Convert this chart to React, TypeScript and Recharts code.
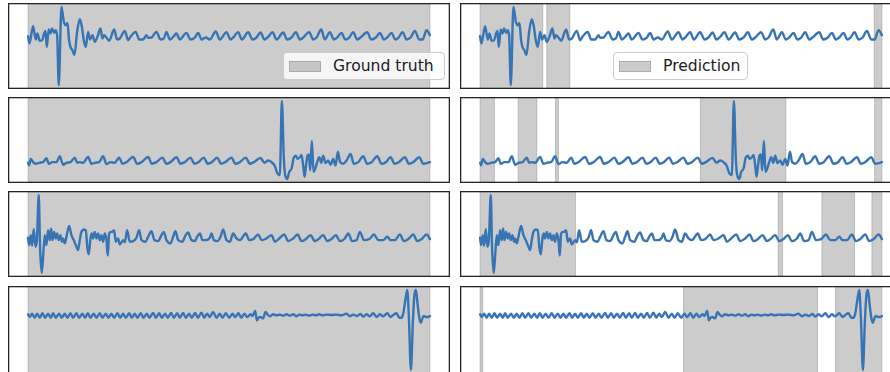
import React from "react";
import { LineChart, Line, XAxis, YAxis, ReferenceArea } from "recharts";

// Signals: [sample index, amplitude]
const signal1: [number, number][] = [
  [0,2],[4,-20],[15,32],[23,-8],[28,10],[35,-12],[42,-10],[48,10],[52,18],[56,-30],[62,22],[67,10],[72,25],[78,12],[83,20],[87,5],[92,-145],[100,90],[108,42],[113,35],[118,42],[123,-10],[127,-30],[133,-40],[139,-55],[147,15],[155,53],[161,32],[167,-10],[173,-30],[180,15],[186,-8],[193,5],[200,-15],[208,0],[217,25],[223,-5],[228,5],[235,-2],[243,-12],[258,22],[267,-8],[275,-5],[290,18],[300,-10],[307,0],[323,15],[333,-8],[345,-8],[355,5],[360,-3],[370,-2],[385,15],[397,-8],[407,-5],[415,15],[425,-8],[435,0],[445,10],[455,-8],[475,12],[487,-8],[500,-2],[510,12],[520,-8],[533,-2],[545,-8],[563,16],[575,-8],[595,14],[607,-8],[615,-2],[630,14],[641,-8],[660,14],[673,-8],[685,-2],[697,13],[709,-8],[720,0],[733,14],[745,-8],[765,13],[777,-8],[790,-2],[803,14],[815,-8],[825,-2],[843,14],[855,-8],[865,-2],[879,22],[890,-8],[905,14],[917,-8],[927,-2],[940,12],[951,-8],[963,-2],[975,14],[987,-8],[997,-2],[1017,14],[1029,-8],[1043,-2],[1055,12],[1067,-8],[1077,-2],[1090,12],[1101,-8],[1111,-2],[1123,14],[1135,-8],[1147,-2],[1160,18],[1173,-8],[1183,-8],[1195,20],[1205,5],
];

const signal2: [number, number][] = [
  [0,0],[3,-8],[8,12],[15,2],[23,-3],[33,0],[45,2],[55,14],[62,-3],[73,2],[85,2],[95,20],[105,-6],[115,0],[127,2],[140,16],[147,0],[155,2],[165,0],[180,18],[190,-3],[200,0],[213,2],[225,20],[235,-4],[247,2],[260,0],[273,16],[283,-3],[295,2],[315,18],[327,-3],[340,2],[360,18],[371,-3],[385,2],[403,16],[415,-3],[427,2],[445,17],[457,-3],[470,2],[487,16],[499,-3],[511,2],[527,16],[539,-3],[551,2],[567,16],[579,-3],[591,2],[610,16],[622,-3],[635,2],[653,16],[665,-3],[677,2],[697,15],[709,0],[720,7],[730,2],[740,-10],[748,-33],[755,-38],[761,190],[767,12],[771,-38],[777,-50],[783,-28],[790,-18],[797,17],[803,22],[808,12],[815,17],[820,24],[825,-8],[829,-43],[833,-13],[838,22],[842,26],[846,-23],[851,67],[856,-28],[861,-18],[867,2],[873,17],[879,0],[885,22],[892,-1],[900,7],[907,-6],[915,12],[922,-8],[929,34],[936,2],[945,-3],[955,7],[967,27],[977,-3],[990,2],[1005,20],[1017,-3],[1030,2],[1047,20],[1060,-3],[1073,2],[1087,17],[1099,-3],[1112,2],[1130,17],[1142,-3],[1155,2],[1173,17],[1185,-3],[1205,2],
];

const signal3: [number, number][] = [
  [0,2],[3,-20],[8,10],[12,-22],[17,28],[22,-25],[26,-10],[32,132],[36,-30],[41,-105],[46,-40],[50,10],[55,-20],[60,25],[65,-5],[69,30],[73,-5],[78,20],[83,0],[87,15],[92,-5],[97,10],[102,-10],[105,0],[110,-15],[115,5],[123,38],[130,10],[137,-5],[143,-20],[150,-35],[155,-5],[160,20],[167,27],[173,25],[178,-30],[182,-48],[187,0],[191,15],[195,0],[200,20],[205,0],[210,15],[215,-5],[220,10],[225,-10],[230,15],[235,-5],[239,-52],[243,15],[248,20],[253,20],[258,25],[263,-10],[270,0],[275,-18],[285,-5],[290,-12],[297,25],[305,-10],[315,-8],[325,2],[333,25],[340,-5],[352,-10],[360,5],[370,22],[379,-5],[390,-8],[400,10],[407,20],[415,-5],[427,-15],[435,5],[442,22],[450,-5],[463,-10],[470,5],[480,18],[490,-5],[500,-8],[507,5],[515,15],[523,-5],[535,-5],[545,2],[550,15],[557,-5],[568,-8],[577,5],[585,27],[595,-5],[605,-10],[615,15],[625,0],[635,-5],[653,15],[663,-5],[675,-2],[690,12],[700,-5],[715,0],[730,10],[740,-10],[753,0],[768,12],[780,-8],[795,0],[808,12],[820,-8],[833,-2],[847,10],[860,-8],[873,0],[885,10],[897,-8],[910,-2],[923,10],[935,-8],[950,0],[960,15],[972,-8],[985,-5],[995,20],[1007,-5],[1023,-2],[1037,12],[1050,-5],[1065,-5],[1077,5],[1087,-5],[1100,-5],[1115,12],[1127,-8],[1140,-2],[1155,12],[1167,-8],[1180,-2],[1195,12],[1205,-2],
];

const signal4: [number, number][] = [
  [0,3],[5,-5],[12,5],[20,-7],[27,5],[35,-7],[43,6],[51,-7],[60,5],[68,-7],[75,6],[83,-7],[93,5],[101,-7],[110,5],[118,-7],[127,6],[135,-7],[145,6],[153,-7],[163,5],[171,-7],[179,6],[187,-7],[197,5],[205,-7],[215,6],[223,-7],[233,5],[241,-7],[250,5],[258,-7],[268,6],[276,-7],[285,5],[293,-7],[303,6],[311,-7],[320,5],[328,-7],[338,6],[346,-7],[356,5],[364,-7],[375,7],[383,-7],[393,6],[401,-7],[411,5],[419,-7],[429,7],[437,-7],[447,6],[455,-7],[465,7],[473,-7],[483,5],[491,-7],[501,7],[509,-7],[520,8],[528,-7],[537,5],[545,-5],[555,10],[565,-7],[575,5],[583,-7],[593,6],[603,-7],[613,5],[621,-5],[631,6],[639,-7],[649,5],[657,-5],[667,3],[673,-2],[681,13],[686,-15],[691,-7],[697,-5],[705,-9],[712,10],[718,3],[725,-3],[735,3],[745,0],[755,2],[765,-1],[775,3],[785,-1],[795,3],[805,-3],[813,2],[823,0],[833,2],[843,-1],[853,2],[863,0],[873,3],[883,0],[895,2],[910,1],[925,2],[940,0],[955,5],[965,-3],[975,2],[987,-2],[997,4],[1005,-4],[1015,3],[1025,-3],[1035,6],[1045,-5],[1055,3],[1065,-3],[1077,6],[1087,-5],[1095,1],[1105,6],[1113,-7],[1120,-7],[1125,5],[1131,43],[1137,75],[1142,-7],[1148,-162],[1154,-17],[1159,63],[1163,75],[1168,33],[1174,-12],[1178,-22],[1183,-7],[1187,-2],[1193,-5],[1199,-5],[1205,-2],
];

// Shaded intervals (sample index ranges)
const truth1: [number, number][] = [[0, 1205]];
const truth2: [number, number][] = [[0, 1205]];
const truth3: [number, number][] = [[0, 1205]];
const truth4: [number, number][] = [[0, 1205]];
const pred1: [number, number][] = [[0, 188], [200, 269], [1182, 1205]];
const pred2: [number, number][] = [[0, 43], [114, 170], [226, 235], [661, 917], [1183, 1205]];
const pred3: [number, number][] = [[0, 286], [894, 907], [1025, 1123], [1175, 1205]];
const pred4: [number, number][] = [[0, 8], [610, 1012], [1066, 1205]];

const legendLabels = ["Ground truth", "Prediction"];

const LINE_COLOR = "#3774b3";
const PW = 442;
const FONT = "'DejaVu Sans', sans-serif";

function padDomain(vals: number[]): [number, number] {
  const lo = Math.min(...vals);
  const hi = Math.max(...vals);
  const p = (hi - lo) * 0.05;
  return [lo - p, hi + p];
}

function Panel({ left, top, height, signal, spans }: { left: number; top: number; height: number; signal: [number, number][]; spans: [number, number][] }) {
  const data = signal.map(([t, v]) => ({ t, v }));
  const xd = padDomain(signal.map((d) => d[0]));
  const yd = padDomain(signal.map((d) => d[1]));
  return (
    <div style={{ position: "absolute", left, top, width: PW, height }}>
      <LineChart width={PW} height={height} data={data} margin={{ top: 0, right: 0, bottom: 0, left: 0 }}>
        <XAxis type="number" dataKey="t" domain={xd} hide allowDataOverflow />
        <YAxis type="number" domain={yd} hide allowDataOverflow />
        {spans.map(([a, b], i) => (
          <ReferenceArea
            key={i}
            x1={a}
            x2={b}
            fill="#808080"
            fillOpacity={0.4}
            stroke="#808080"
            strokeOpacity={0.4}
            strokeWidth={1}
            ifOverflow="visible"
          />
        ))}
        <Line
          type="monotone"
          dataKey="v"
          stroke={LINE_COLOR}
          strokeWidth={2.4}
          strokeLinejoin="round"
          strokeLinecap="round"
          dot={false}
          isAnimationActive={false}
        />
      </LineChart>
      <svg width={PW} height={height} style={{ position: "absolute", left: 0, top: 0, pointerEvents: "none" }}>
        <rect x={0.65} y={0.65} width={PW - 1.3} height={height - 1.3} fill="none" stroke="#262626" strokeWidth={1.3} />
      </svg>
    </div>
  );
}

function LegendBox({ left, top, width, label }: { left: number; top: number; width: number; label: string }) {
  return (
    <div
      style={{
        position: "absolute",
        left,
        top,
        width,
        height: 28,
        boxSizing: "border-box",
        background: "rgba(255,255,255,0.8)",
        border: "1px solid #cccccc",
        borderRadius: 4,
        display: "flex",
        alignItems: "center",
        fontFamily: FONT,
        fontSize: 15.6,
        color: "#1a1a1a",
        whiteSpace: "nowrap",
      }}
    >
      <div
        style={{
          marginLeft: 5,
          width: 32,
          height: 11,
          boxSizing: "border-box",
          background: "rgba(128,128,128,0.4)",
          border: "1px solid rgba(128,128,128,0.4)",
        }}
      />
      <span style={{ marginLeft: 12 }}>{label}</span>
    </div>
  );
}

export default function App() {
  const rows = [
    { top: 3, h: 86, sig: signal1, truth: truth1, pred: pred1 },
    { top: 97, h: 86, sig: signal2, truth: truth2, pred: pred2 },
    { top: 191, h: 86, sig: signal3, truth: truth3, pred: pred3 },
    { top: 286, h: 88, sig: signal4, truth: truth4, pred: pred4 },
  ];
  return (
    <div style={{ position: "absolute", left: 0, top: 0, width: 890, height: 372, overflow: "hidden", background: "#fff" }}>
      {rows.map((r, i) => (
        <React.Fragment key={i}>
          <Panel left={8} top={r.top} height={r.h} signal={r.sig} spans={r.truth} />
          <Panel left={460} top={r.top} height={r.h} signal={r.sig} spans={r.pred} />
        </React.Fragment>
      ))}
      <LegendBox left={283} top={52} width={162} label={legendLabels[0]} />
      <LegendBox left={613} top={52} width={135} label={legendLabels[1]} />
    </div>
  );
}
